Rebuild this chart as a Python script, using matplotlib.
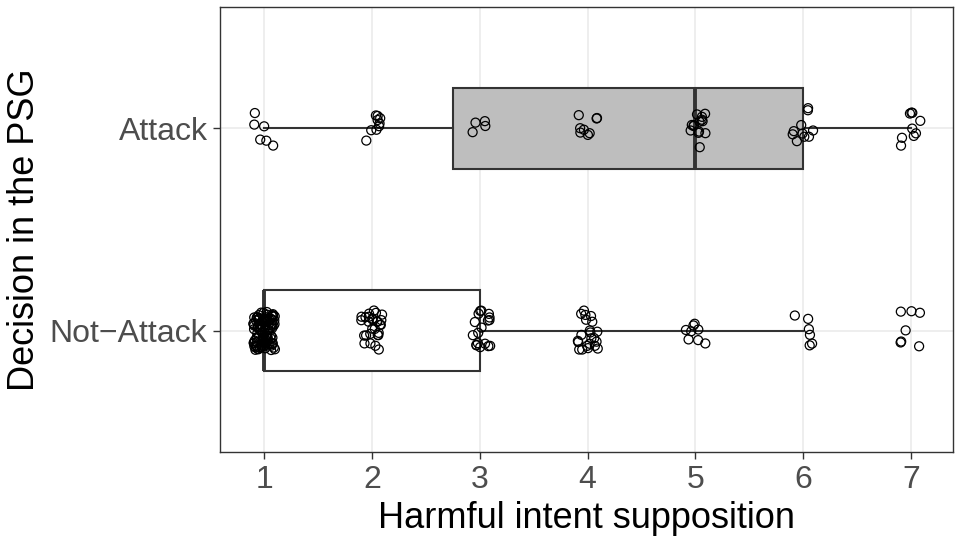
import numpy as np
import matplotlib
matplotlib.use("Agg")
import matplotlib.pyplot as plt

plt.rcParams['font.family'] = ['Liberation Sans', 'DejaVu Sans']

# harmful intent supposition score levels
levels = [1, 2, 3, 4, 5, 6, 7]
groups = ["Not\u2212Attack", "Attack"]
# number of participants at each score, per decision
counts_attack = [6, 9, 4, 8, 14, 10, 9]
counts_notattack = [100, 28, 18, 22, 8, 6, 7]

vals_attack = np.repeat(levels, counts_attack)
vals_notattack = np.repeat(levels, counts_notattack)
data = [vals_notattack, vals_attack]

fig = plt.figure(figsize=(9.56, 5.4), dpi=100)
ax = fig.add_axes([220/956, 1 - 452/540, (953-220)/956, (452-7)/540])

bp = ax.boxplot(data, positions=[1, 2], vert=False, widths=0.4, whis=1.5,
                showfliers=False, showcaps=False, patch_artist=True,
                medianprops=dict(color='#333333', linewidth=2.8),
                whiskerprops=dict(color='#333333', linewidth=1.5),
                boxprops=dict(edgecolor='#333333', linewidth=1.5), zorder=2)
bp['boxes'][0].set_facecolor('white')
bp['boxes'][1].set_facecolor('#bebebe')

# jittered points
rng = np.random.default_rng(7)
for pos, v in zip([1, 2], data):
    jx = v + rng.uniform(-0.1, 0.1, len(v))
    jy = pos + rng.uniform(-0.1, 0.1, len(v))
    ax.scatter(jx, jy, s=42, facecolors='none', edgecolors='black',
               linewidths=0.9, zorder=3)

ax.set_xlim(0.59, 7.39)
ax.set_ylim(0.4, 2.6)
ax.set_xticks(levels)
ax.set_yticks([1, 2])
ax.set_yticklabels(groups)
ax.grid(True, color='#ebebeb', linewidth=1.2, zorder=0)
ax.set_axisbelow(True)
for s in ax.spines.values():
    s.set_color('#333333')
    s.set_linewidth(1.0)
ax.tick_params(axis='both', colors='#333333', length=5, width=1.0,
               labelsize=23, labelcolor='#4d4d4d', pad=4)

ax.set_xlabel("Harmful intent supposition", fontsize=26, labelpad=5)
ax.set_ylabel("Decision in the PSG", fontsize=26, labelpad=6)

fig.savefig("out.png", dpi=100)
